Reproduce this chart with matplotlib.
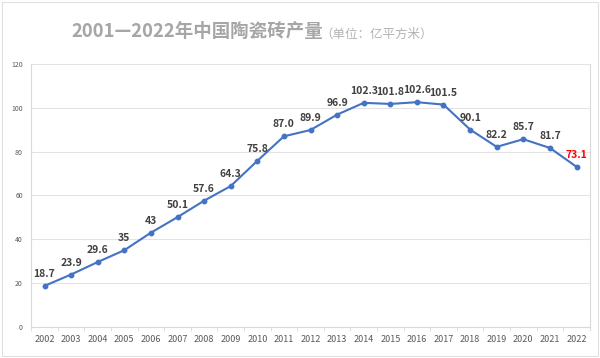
import matplotlib.pyplot as plt
import numpy as np

plt.rcParams['font.family'] = ['Noto Sans CJK SC', 'DejaVu Sans']

# data
years = [str(y) for y in range(2002, 2023)]
output = [18.7, 23.9, 29.6, 35, 43, 50.1, 57.6, 64.3, 75.8, 87.0, 89.9,
          96.9, 102.3, 101.8, 102.6, 101.5, 90.1, 82.2, 85.7, 81.7, 73.1]
labels = ['18.7', '23.9', '29.6', '35', '43', '50.1', '57.6', '64.3', '75.8',
          '87.0', '89.9', '96.9', '102.3', '101.8', '102.6', '101.5', '90.1',
          '82.2', '85.7', '81.7', '73.1']
yticks = [0, 20, 40, 60, 80, 100, 120]

fig = plt.figure(figsize=(6, 3.58), dpi=100)
ax = fig.add_axes([0.052, 0.087, 0.931, 0.734])

x = np.arange(len(years))
ax.plot(x, output, color='#4472C4', lw=1.5, marker='o', ms=3.2, zorder=3)

for i, (v, s) in enumerate(zip(output, labels)):
    c = 'red' if i == len(output) - 1 else '#404040'
    ax.annotate(s, (i, v), xytext=(0, 5), textcoords='offset points',
                ha='center', va='bottom', fontsize=7.5, fontweight='bold',
                color=c)

ax.set_xlim(-0.5, len(years) - 0.5)
ax.set_ylim(0, 120)
ax.set_yticks(yticks)
ax.set_yticklabels([str(t) for t in yticks], fontsize=5, color='#595959')
ax.set_xticks(x)
ax.set_xticklabels(years, fontsize=6.5, color='#595959')
ax.set_xticks(np.arange(-0.5, len(years)), minor=True)
ax.tick_params(axis='x', which='major', length=0, pad=6)
ax.tick_params(axis='x', which='minor', length=3, color='#d9d9d9')
ax.tick_params(axis='y', length=0, pad=6)
ax.grid(axis='y', color='#e3e3e3', lw=0.8)
ax.set_axisbelow(True)
ax.spines['top'].set_visible(False)
for side in ['left', 'right', 'bottom']:
    ax.spines[side].set_color('#d9d9d9')
    ax.spines[side].set_linewidth(0.8)

# title in two parts
fig.text(0.538, 0.911, '2001—2022年中国陶瓷砖产量', ha='right', va='center',
         fontsize=13.3, fontweight='bold', color='#a6a6a6')
fig.text(0.533, 0.905, '（单位：亿平方米）', ha='left', va='center',
         fontsize=9, color='#b3b3b3')
fig.patches.append(plt.Rectangle((0.003, 0.005), 0.994, 0.99,
                   transform=fig.transFigure, fill=False,
                   edgecolor='#e0e0e0', lw=0.8))

fig.savefig('out.png', dpi=100)
